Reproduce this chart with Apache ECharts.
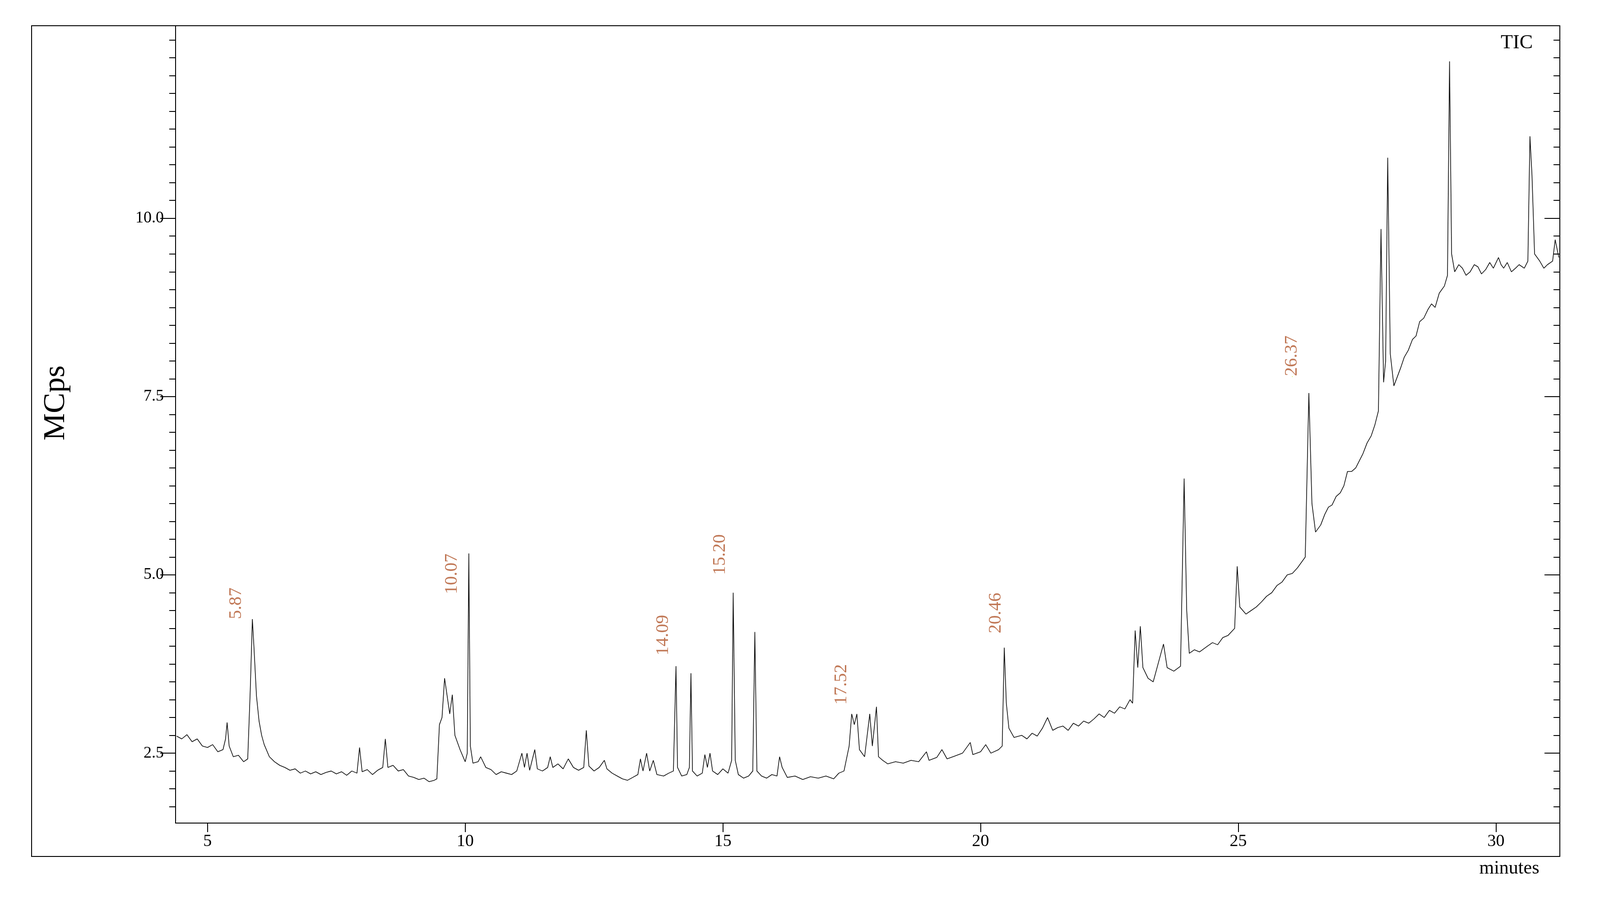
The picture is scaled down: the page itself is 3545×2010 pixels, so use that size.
<!DOCTYPE html>
<html>
<head>
<meta charset="utf-8">
<script src="https://cdn.jsdelivr.net/npm/echarts@6/dist/echarts.min.js"></script>
<style>html,body{margin:0;padding:0;background:#fff;}</style>
</head>
<body>
<div id="main" style="width:3545px;height:2010px;"></div>
<script>
// TIC trace, [minutes, MCps]
var traceEarly = [[4.40,2.74],[4.50,2.70],[4.60,2.76],[4.70,2.66],[4.80,2.70],[4.90,2.60],[5.00,2.58],[5.10,2.62],[5.20,2.52],[5.30,2.55],[5.35,2.70],[5.38,2.93],[5.42,2.60],[5.50,2.45],[5.60,2.47],[5.70,2.38],[5.78,2.42],[5.83,3.40],[5.87,4.38],[5.90,4.00],[5.95,3.30],[6.00,2.95],[6.05,2.75],[6.10,2.62],[6.20,2.45],[6.30,2.38],[6.40,2.33],[6.50,2.30],[6.60,2.26],[6.70,2.28],[6.80,2.22],[6.90,2.25],[7.00,2.21],[7.10,2.24],[7.20,2.20],[7.30,2.23],[7.40,2.25],[7.50,2.21],[7.60,2.24],[7.70,2.19],[7.80,2.25],[7.90,2.22],[7.95,2.58],[8.00,2.24],[8.10,2.27],[8.20,2.20],[8.30,2.26],[8.40,2.30],[8.45,2.70],[8.50,2.30],[8.60,2.33],[8.70,2.25],[8.80,2.27],[8.90,2.18],[9.00,2.16],[9.10,2.13],[9.20,2.15],[9.30,2.10],[9.40,2.12],[9.45,2.14],[9.50,2.90],[9.55,3.00],[9.60,3.55],[9.65,3.30],[9.70,3.05],[9.75,3.32],[9.80,2.75],[9.90,2.55],[10.00,2.38],[10.04,2.50],[10.07,5.30],[10.10,2.60],[10.15,2.36],[10.25,2.38],[10.30,2.45],[10.40,2.30],[10.50,2.27],[10.60,2.20],[10.70,2.24],[10.80,2.22],[10.90,2.20],[11.00,2.25],[11.10,2.50],[11.15,2.30],[11.20,2.50],[11.25,2.26],[11.35,2.55],[11.40,2.28],[11.50,2.25],[11.60,2.30],[11.65,2.45],[11.70,2.30],[11.80,2.35],[11.90,2.28],[12.00,2.42],[12.10,2.30],[12.20,2.26],[12.30,2.30],[12.35,2.82],[12.40,2.32],[12.50,2.25],[12.60,2.30],[12.70,2.40],[12.75,2.28],[12.85,2.22],[12.95,2.18]];
var traceMid = [[13.05,2.14],[13.15,2.12],[13.25,2.16],[13.35,2.20],[13.40,2.42],[13.45,2.25],[13.52,2.50],[13.58,2.25],[13.65,2.40],[13.72,2.20],[13.85,2.18],[13.95,2.22],[14.04,2.25],[14.09,3.72],[14.12,2.30],[14.20,2.18],[14.30,2.20],[14.35,2.30],[14.38,3.62],[14.41,2.25],[14.50,2.18],[14.60,2.22],[14.65,2.48],[14.70,2.30],[14.75,2.50],[14.80,2.25],[14.90,2.20],[15.00,2.28],[15.10,2.22],[15.17,2.40],[15.20,4.75],[15.24,2.40],[15.30,2.20],[15.40,2.15],[15.50,2.18],[15.58,2.25],[15.62,4.20],[15.66,2.25],[15.75,2.18],[15.85,2.15],[15.95,2.20],[16.05,2.18],[16.10,2.45],[16.15,2.30],[16.25,2.16],[16.40,2.18],[16.55,2.13],[16.70,2.17],[16.85,2.15],[17.00,2.18],[17.15,2.14],[17.25,2.22],[17.35,2.25],[17.45,2.60],[17.50,3.05],[17.55,2.90],[17.60,3.05],[17.65,2.55],[17.75,2.45],[17.85,3.05],[17.90,2.60],[17.98,3.15],[18.02,2.45],[18.10,2.40],[18.20,2.35],[18.35,2.38],[18.50,2.36],[18.65,2.40],[18.80,2.38],[18.95,2.52],[19.00,2.40],[19.15,2.44],[19.25,2.55],[19.35,2.42],[19.50,2.46],[19.65,2.50],[19.80,2.65],[19.85,2.48],[20.00,2.52],[20.10,2.62],[20.20,2.50],[20.35,2.55],[20.42,2.60],[20.46,3.98],[20.50,3.20],[20.55,2.85],[20.65,2.72],[20.80,2.75],[20.90,2.70],[21.00,2.78],[21.10,2.74],[21.20,2.85],[21.30,3.00],[21.40,2.82],[21.50,2.86],[21.60,2.88],[21.70,2.82],[21.80,2.92],[21.90,2.88],[22.00,2.95],[22.10,2.92],[22.20,2.98],[22.30,3.05],[22.40,3.00],[22.50,3.10],[22.60,3.06],[22.70,3.15],[22.80,3.12],[22.90,3.25],[22.95,3.20]];
var traceLate = [[23.00,4.22],[23.05,3.70],[23.10,4.28],[23.15,3.70],[23.25,3.55],[23.35,3.50],[23.50,3.90],[23.55,4.03],[23.62,3.70],[23.75,3.65],[23.88,3.72],[23.95,6.35],[24.00,4.50],[24.05,3.90],[24.15,3.95],[24.25,3.92],[24.40,4.00],[24.50,4.05],[24.60,4.02],[24.70,4.12],[24.80,4.15],[24.93,4.25],[24.98,5.12],[25.03,4.55],[25.15,4.45],[25.25,4.50],[25.35,4.55],[25.45,4.62],[25.55,4.70],[25.65,4.75],[25.75,4.85],[25.85,4.90],[25.95,5.00],[26.05,5.02],[26.15,5.10],[26.30,5.25],[26.37,7.55],[26.43,6.00],[26.50,5.60],[26.60,5.70],[26.68,5.85],[26.75,5.95],[26.82,5.98],[26.90,6.10],[26.98,6.15],[27.05,6.25],[27.12,6.45],[27.20,6.45],[27.28,6.50],[27.35,6.60],[27.42,6.70],[27.50,6.85],[27.58,6.95],[27.65,7.10],[27.72,7.30],[27.77,9.85],[27.82,7.70],[27.86,8.00],[27.90,10.85],[27.95,8.10],[28.02,7.65],[28.15,7.90],[28.22,8.05],[28.30,8.15],[28.38,8.30],[28.45,8.35],[28.52,8.55],[28.60,8.60],[28.68,8.72],[28.75,8.80],[28.82,8.75],[28.90,8.95],[28.95,9.00],[29.00,9.05],[29.06,9.20],[29.10,12.20],[29.14,9.50],[29.20,9.25],[29.28,9.35],[29.35,9.30],[29.42,9.20],[29.50,9.25],[29.58,9.35],[29.65,9.32],[29.72,9.22],[29.80,9.28],[29.88,9.38],[29.95,9.30],[30.05,9.45],[30.10,9.35],[30.15,9.30],[30.22,9.38],[30.30,9.25],[30.38,9.30],[30.45,9.35],[30.55,9.30],[30.62,9.40],[30.66,11.15],[30.70,10.60],[30.75,9.50],[30.85,9.40],[30.93,9.30],[31.00,9.35],[31.10,9.40],[31.15,9.70],[31.22,9.45]];

// peak annotations: label text, anchor time, anchor height
var peakLabels = ['5.87','10.07','14.09','15.20','17.52','20.46','26.37'];
var peakLabelT = [5.56,9.74,13.84,14.95,17.30,20.30,26.05];
var peakLabelV = [4.38,4.73,3.87,5.00,3.18,4.18,7.78];

var yMajor = [2.5,5.0,7.5,10.0];
var yMinor = [1.75,2.0,2.25,2.75,3.0,3.25,3.5,3.75,4.0,4.25,4.5,4.75,5.25,5.5,5.75,6.0,6.25,6.5,6.75,7.0,7.25,7.75,8.0,8.25,8.5,8.75,9.0,9.25,9.5,9.75,10.25,10.5,10.75,11.0,11.25,11.5,11.75,12.0,12.25,12.5];
var xTicks = [5,10,15,20,25,30];

var serif = 'Liberation Serif';
var chart = echarts.init(document.getElementById('main'));

var trace = traceEarly.concat(traceMid, traceLate);
var labelPts = peakLabels.map(function (s, i) { return {name: s, value: [peakLabelT[i], peakLabelV[i]]}; });

function yAx(pos, showLabel, values, len, inside) {
    return {
        type: 'value', position: pos, min: 1.52, max: 12.7,
        axisLine: {show: true, lineStyle: {color: '#000', width: 2}},
        splitLine: {show: false},
        axisTick: {show: true, inside: inside, length: len, customValues: values, lineStyle: {color: '#000', width: 2}},
        axisLabel: {show: showLabel, customValues: values, margin: 26, color: '#000', fontFamily: serif, fontSize: 36,
            formatter: function (v) { return v.toFixed(1); }}
    };
}

chart.setOption({
    animation: false,
    grid: {left: 389, right: 89, top: 57, bottom: 186},
    xAxis: {
        type: 'value', min: 4.38, max: 31.24,
        axisLine: {show: true, onZero: false, lineStyle: {color: '#000', width: 2}},
        splitLine: {show: false},
        axisTick: {show: true, length: 20, customValues: xTicks, lineStyle: {color: '#000', width: 2}},
        axisLabel: {customValues: xTicks, margin: 22, color: '#000', fontFamily: serif, fontSize: 38}
    },
    yAxis: [
        yAx('left', true, yMajor, 34, false),
        yAx('left', false, yMinor, 14, false),
        yAx('right', false, yMajor, 34, true),
        yAx('right', false, yMinor, 14, true)
    ],
    graphic: [
        {type: 'rect', shape: {x: 70, y: 57, width: 3386, height: 1841}, style: {fill: null, stroke: '#000', lineWidth: 2}, silent: true},
        {type: 'text', x: 3396, y: 95, style: {text: 'TIC', font: '44px "Liberation Serif"', fill: '#000', textAlign: 'right', textVerticalAlign: 'middle'}},
        {type: 'text', x: 3344, y: 1925, style: {text: 'minutes', font: '42px "Liberation Serif"', fill: '#000', textAlign: 'center', textVerticalAlign: 'middle'}},
        {type: 'text', x: 124, y: 893, rotation: Math.PI / 2, style: {text: 'MCps', font: '68px "Liberation Serif"', fill: '#000', textAlign: 'center', textVerticalAlign: 'middle'}}
    ],
    series: [
        {
            type: 'line', data: trace, showSymbol: false, symbol: 'none',
            lineStyle: {color: '#111', width: 1.6}
        },
        {
            type: 'scatter', data: labelPts, symbolSize: 0,
            label: {
                show: true, position: [0, 0], rotate: 90, align: 'left', verticalAlign: 'middle',
                formatter: '{b}', color: '#b0552a', fontFamily: serif, fontSize: 40
            }
        }
    ]
});
</script>
</body>
</html>
